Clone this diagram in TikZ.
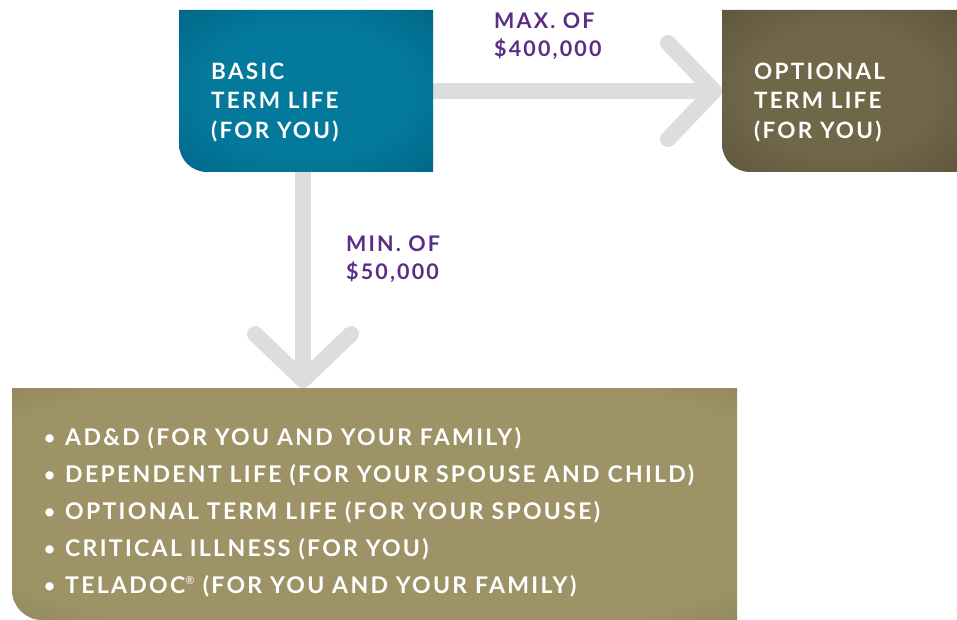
\documentclass[tikz,border=0pt]{standalone}
\usepackage{fontspec}
\setmainfont{Lato}[LetterSpace=10]
\usetikzlibrary{arrows.meta,positioning}
\definecolor{blueIn}{HTML}{037A9C}
\definecolor{blueOut}{HTML}{00587A}
\definecolor{oliveIn}{HTML}{706749}
\definecolor{oliveOut}{HTML}{524A35}
\definecolor{khakiIn}{HTML}{9E9367}
\definecolor{khakiOut}{HTML}{786E4B}
\definecolor{arrowgray}{HTML}{DCDDDF}
\definecolor{amountpurple}{HTML}{5C2D85}
% vignette shadings, light centre and darker rim
\pgfdeclareradialshading{bluevig}{\pgfpoint{0bp}{0bp}}{color(0bp)=(blueIn); color(20bp)=(blueIn); color(48bp)=(blueOut); color(75bp)=(blueOut)}
\pgfdeclareradialshading{olivevig}{\pgfpoint{0bp}{0bp}}{color(0bp)=(oliveIn); color(20bp)=(oliveIn); color(48bp)=(oliveOut); color(75bp)=(oliveOut)}
\pgfdeclareradialshading{khakivig}{\pgfpoint{0bp}{0bp}}{color(0bp)=(khakiIn); color(30bp)=(khakiIn); color(49bp)=(khakiOut); color(75bp)=(khakiOut)}
\tikzset{box/.style = {rectangle, inner sep = 0, outer sep = 0}}
\tikzset{flow/.style = {draw=arrowgray, line width=16pt,
    -{Straight Barb[length=46pt,width=96pt,line cap=round,line join=round]}}}
% box with one rounded corner (bottom left)
\newcommand{\tabbox}[3]{%
  \shade[shading=#2] (#1.north west) -- (#1.north east) -- (#1.south east)
    -- ([xshift=#3pt]#1.south west)
    .. controls ([xshift=0.448*#3pt]#1.south west) and ([yshift=0.448*#3pt]#1.south west)
    .. ([yshift=#3pt]#1.south west) -- cycle;}
\newcommand{\listdot}{\raisebox{1pt}{\fontsize{19}{19}\selectfont\textbullet}\hspace{10pt}}

\begin{document}
\begin{tikzpicture}[x=1pt,y=-1pt,
    boxtext/.style={font={\fontsize{22.5}{29.5}\selectfont\bfseries}, text=white,
        align=left, inner sep=0, anchor=west},
    listtext/.style={font={\fontsize{23}{37}\selectfont\bfseries}, text=white,
        align=left, inner sep=0, anchor=west},
    amount/.style={font={\fontsize{21.5}{28}\selectfont\bfseries}, text=amountpurple,
        align=left, inner sep=0, anchor=west},
    ]
    \useasboundingbox (0,0) rectangle (957,620);

    % Boxes
    \node[box, minimum width=254, minimum height=162] (basic) at (306,91) {};
    \node[box, minimum width=235, minimum height=162] (optional) at (839.5,91) {};
    \node[box, minimum width=725, minimum height=232] (list) at (374.5,504) {};

    % Arrows
    \draw[flow] (basic.east) -- (optional.west);
    \draw[flow] ([xshift=-3pt]basic.south) -- ([xshift=-3pt]basic.south |- list.north);

    \tabbox{basic}{bluevig}{28}
    \tabbox{optional}{olivevig}{28}
    \tabbox{list}{khakivig}{30}

    % Texts
    \node[boxtext] (basictext) at ([xshift=32pt,yshift=-11.5pt]basic.west)
        {BASIC\\TERM LIFE\\(FOR YOU)};
    \node[boxtext] (optionaltext) at ([xshift=32pt,yshift=-11.5pt]optional.west)
        {OPTIONAL\\TERM LIFE\\(FOR YOU)};
    \node[listtext] (listtext) at ([xshift=32pt,yshift=-8pt]list.west)
        {\listdot AD\&D (FOR YOU AND YOUR FAMILY)\\
         \listdot DEPENDENT LIFE (FOR YOUR SPOUSE AND CHILD)\\
         \listdot OPTIONAL TERM LIFE (FOR YOUR SPOUSE)\\
         \listdot CRITICAL ILLNESS (FOR YOU)\\
         \listdot TELADOC\textsuperscript{\mdseries\fontsize{11}{11}\selectfont\textregistered} (FOR YOU AND YOUR FAMILY)};

    % Amounts
    \node[amount] (maxamount) at (494,36) {MAX. OF\\\$400,000};
    \node[amount] (minamount) at (346,259) {MIN. OF\\\$50,000};

\end{tikzpicture}
\end{document}
